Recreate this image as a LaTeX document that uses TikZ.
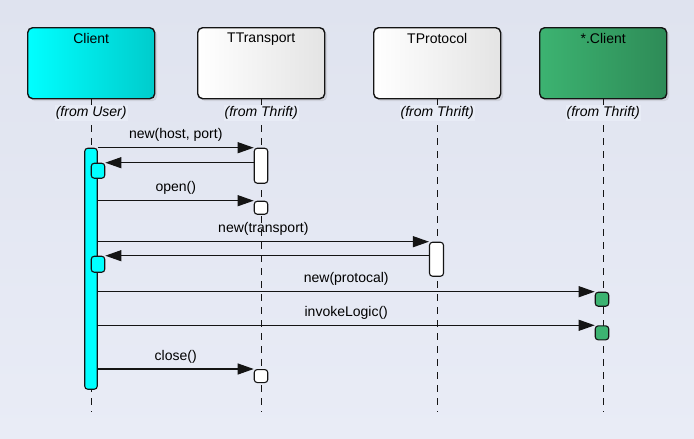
\documentclass[tikz,border=0pt]{standalone}
\usepackage{fontspec}
\setmainfont{Liberation Sans}
\usepackage{tikz}
\usetikzlibrary{arrows.meta,positioning,shadows,calc}
\definecolor{bgtop}{HTML}{DFE3EF}
\definecolor{bgbot}{HTML}{E9ECF6}
\definecolor{tagbg}{HTML}{E8ECF6}
\definecolor{cyanL}{HTML}{00FFFF}
\definecolor{cyanR}{HTML}{00CCCC}
\definecolor{greyR}{HTML}{E4E4E4}
\definecolor{greenL}{HTML}{3CB371}
\definecolor{greenR}{HTML}{2E8B57}
\definecolor{ink}{HTML}{141414}
\tikzstyle{obj} = [draw=ink, line width=1.4pt, rounded corners=5pt, inner sep=0pt, minimum width=127pt, minimum height=71pt, anchor=north west, shading=axis, shading angle=90, drop shadow={shadow xshift=2.5pt, shadow yshift=-2.5pt, opacity=0.18}]
\tikzstyle{title} = [anchor=north, yshift=-2.5pt]
\tikzstyle{from} = [fill=tagbg, inner sep=1pt, font=\fontsize{14}{16}\selectfont\itshape]
\tikzstyle{lifeline} = [draw=ink, line width=1.1pt, dash pattern=on 7pt off 6pt]
\tikzstyle{bar} = [draw=ink, line width=1.1pt, rounded corners=3pt, inner sep=0pt, anchor=north]
\tikzstyle{arrow} = [draw=ink, line width=1.1pt, -{Triangle[length=16pt,width=11pt]}]
\tikzstyle{msg} = [midway, above=2.2pt]

\begin{document}
\begin{tikzpicture}[x=1pt, y=-1pt, font=\fontsize{14}{16}\selectfont]
        \shade[top color=bgtop, bottom color=bgbot] (0,0) rectangle (694,439);
        \useasboundingbox (0,0) rectangle (694,439);
        % objects
        \node[obj, left color=cyanL, right color=cyanR, label={[title, name=clientname]north:Client}] (client) at (27,27) {};
        \node[obj, left color=white, right color=greyR, label={[title, name=transportname]north:TTransport}] (transport) at (197,27) {};
        \node[obj, left color=white, right color=greyR, label={[title, name=protocolname]north:TProtocol}] (protocol) at (373,27) {};
        \node[obj, left color=greenL, right color=greenR, label={[title, name=stubname]north:*.Client}] (stub) at (539,27) {};
        % lifelines
        \foreach \o in {client,transport,protocol,stub}{
            \coordinate (\o end) at (\o.south |- 0,412);
            \draw[lifeline] (\o.south) -- (\o end);
        }
        \node[from] (clientfrom) at (client.south |- 0,113) {(from User)};
        \node[from] (transportfrom) at (transport.south |- 0,113) {(from Thrift)};
        \node[from] (protocolfrom) at (protocol.south |- 0,113) {(from Thrift)};
        \node[from] (stubfrom) at (stub.south |- 0,113) {(from Thrift)};
        % activations
        \node[bar, fill=cyanL, minimum width=12.5pt, minimum height=241pt] (cbar) at (91,147.7) {};
        \node[bar, fill=cyanL, minimum width=13.5pt, minimum height=15pt] (cself1) at (98,162.7) {};
        \node[bar, fill=cyanL, minimum width=13.5pt, minimum height=16pt] (cself2) at (98,255.7) {};
        \node[bar, fill=white, minimum width=13.5pt, minimum height=35pt] (tbar1) at (261,147.7) {};
        \node[bar, fill=white, minimum width=13.5pt, minimum height=13pt] (tbar2) at (261,200.7) {};
        \node[bar, fill=white, minimum width=13.5pt, minimum height=13pt] (tbar3) at (261,369) {};
        \node[bar, fill=white, minimum width=14pt, minimum height=34pt] (pbar) at (436.5,241.7) {};
        \node[bar, fill=greenL, minimum width=13.5pt, minimum height=14pt] (sbar1) at (602,291.7) {};
        \node[bar, fill=greenL, minimum width=13.5pt, minimum height=14pt] (sbar2) at (602,325.3) {};
        % messages
        \draw[arrow] (cbar.east |- tbar1.north) -- (tbar1.north west) node[msg]{new(host, port)};
        \draw[arrow] (tbar1.west |- cself1.north) -- (cself1.north east);
        \draw[arrow] (cbar.east |- tbar2.north) -- (tbar2.north west) node[msg]{open()};
        \draw[arrow] (cbar.east |- pbar.north) -- (pbar.north west) node[msg]{new(transport)};
        \draw[arrow] (pbar.west |- cself2.north) -- (cself2.north east);
        \draw[arrow] (cbar.east |- sbar1.north) -- (sbar1.north west) node[msg]{new(protocal)};
        \draw[arrow] (cbar.east |- sbar2.north) -- (sbar2.north west) node[msg]{invokeLogic()};
        \draw[arrow] (cbar.east |- tbar3.north) -- (tbar3.north west) node[msg]{close()};
    \end{tikzpicture}
\end{document}
